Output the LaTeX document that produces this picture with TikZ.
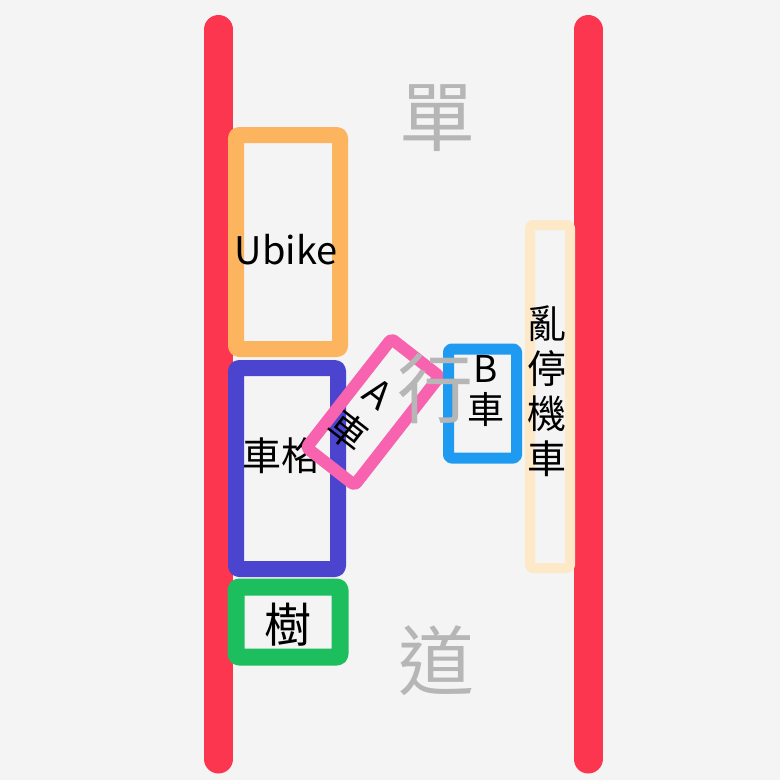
\documentclass[tikz,border=0pt]{standalone}
\usepackage{fontspec}
\setmainfont{Noto Sans CJK TC}
\usetikzlibrary{positioning}
\definecolor{bggray}{RGB}{244,244,244}
\definecolor{roadred}{RGB}{253,54,80}
\definecolor{ubikeorange}{RGB}{253,180,94}
\definecolor{stallblue}{RGB}{75,68,207}
\definecolor{treegreen}{RGB}{29,190,94}
\definecolor{carpink}{RGB}{247,99,174}
\definecolor{carblue}{RGB}{30,155,240}
\definecolor{scootercream}{RGB}{253,232,200}
\definecolor{streetgray}{RGB}{182,182,182}

\begin{document}
\begin{tikzpicture}[x=1pt, y=-1pt,
	box/.style={draw, rectangle, rounded corners=3pt, line join=round, fill=none, inner sep=0pt},
	word/.style={draw=none, inner sep=0pt, text=black, align=center},
	road/.style={line width=29pt, color=roadred, line cap=round},
	street/.style={draw=none, inner sep=0pt, text=streetgray, font=\fontsize{76}{80}\selectfont}
	]
	\fill[bggray] (0,0) rectangle (780,780);
	\useasboundingbox (0,0) rectangle (780,780);
	
	\coordinate (lefttop) at (218.5,29.5);
	\coordinate (leftbottom) at (218.5,759);
	\coordinate (righttop) at (588,29.5);
	\coordinate (rightbottom) at (588,759);
	\draw[road] (lefttop) -- (leftbottom);
	\draw[road] (righttop) -- (rightbottom);
	
	\node[box, draw=ubikeorange, line width=16pt, minimum width=104pt, minimum height=214pt](ubike) at (288,242) {};
	\node[word, font=\fontsize{38}{42}\selectfont](ubiketext) at ([xshift=-2pt, yshift=-8pt]ubike.center) {Ubike};
	
	\node[box, draw=stallblue, line width=16pt, minimum width=102pt, minimum height=201pt](stall) at (287,468.5) {};
	\node[word, font=\fontsize{39}{42}\selectfont](stalltext) at ([xshift=-6pt, yshift=13pt]stall.center) {車格};
	
	\node[box, draw=treegreen, line width=17pt, minimum width=104pt, minimum height=70pt](tree) at (288,622) {};
	\node[word, font=\fontsize{47}{50}\selectfont](treetext) at ([yshift=-3pt]tree.center) {樹};
	
	\node[box, draw=carpink, line width=12pt, minimum width=61pt, minimum height=138pt, rotate=-38](cara) at (373,412) {};
	\node[word, font=\fontsize{38}{48}\selectfont, rotate=-38](caratext) at (362,414) {A\\車};
	
	\node[box, draw=carblue, line width=11pt, minimum width=68pt, minimum height=109pt](carb) at (482.5,403.5) {};
	\node[word, font=\fontsize{37}{41}\selectfont](carbtext) at ([xshift=3.5pt, yshift=13pt]carb.center) {B\\車};
	
	\node[box, draw=scootercream, line width=10pt, minimum width=40pt, minimum height=343pt](scooter) at (550,396.5) {};
	\node[word, font=\fontsize{39}{45}\selectfont](scootertext) at ([xshift=-3pt, yshift=5pt]scooter.center) {亂\\停\\機\\車};
	
	\node[street](dan) at (437,118) {單};
	\node[street](xing) at (435,389) {行};
	\node[street](dao) at (436,661) {道};
\end{tikzpicture}
\end{document}
